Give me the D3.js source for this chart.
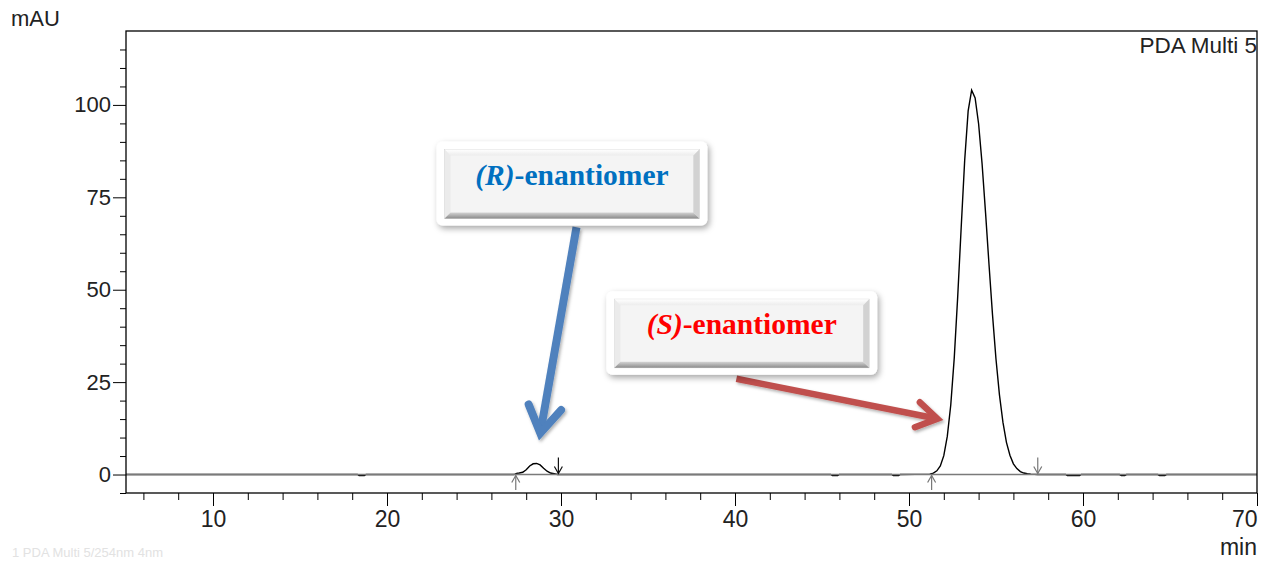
<!DOCTYPE html>
<html>
<head>
<meta charset="utf-8">
<script src="https://cdn.jsdelivr.net/npm/d3@7"></script>
<style>
  body { margin: 0; background: #fff; }
  svg { display: block; }
</style>
</head>
<body>
<div id="chart"></div>
<script>
// chromatogram trace (time in min, signal in mAU)
var traceTime = [5, 18.3, 18.4, 18.7, 18.8, 27.3, 27.45, 27.6, 27.8, 28.0, 28.2, 28.4, 28.6, 28.8, 29.0, 29.2, 29.4, 29.6, 29.8,
    45.5, 45.6, 45.9, 46.0, 49.0, 49.1, 49.4, 49.5,
    51.2, 51.4, 51.6, 51.8, 52.0, 52.2, 52.4, 52.6, 52.8, 53.0, 53.2, 53.4, 53.6, 53.8, 54.0, 54.2, 54.4, 54.6, 54.8,
    55.0, 55.2, 55.4, 55.6, 55.8, 56.0, 56.2, 56.4, 56.6, 56.8, 57.0, 57.4,
    59.0, 59.1, 59.8, 59.9, 62.1, 62.2, 62.4, 62.5, 64.3, 64.4, 64.7, 64.8, 70];
var traceSignal = [0, 0, -0.3, -0.3, 0, 0, 0.3, 0.4, 0.6, 1.3, 2.3, 2.9, 3.0, 2.6, 1.7, 0.9, 0.4, 0.2, 0,
    0, -0.3, -0.3, 0, 0, -0.3, -0.3, 0,
    0.1, 0.4, 1.0, 2.3, 5.1, 10.3, 18.8, 31.5, 48.2, 66.9, 85.0, 98.4, 104.0, 101.9, 94.9, 84.1, 70.8, 56.7, 43.2,
    31.2, 21.5, 14.1, 8.7, 5.2, 2.9, 1.6, 0.8, 0.4, 0.2, 0.1, 0,
    0, -0.3, -0.3, 0, 0, -0.25, -0.25, 0, 0, -0.25, -0.25, 0, 0];

// peak start / end markers (min)
var peakStarts = [27.4, 51.3];
var peakEnds = [29.85, 57.4];
var peakEndColors = ["#111", "#777"];

var xMajor = [10, 20, 30, 40, 50, 60, 70];
var xMinor = [6, 8, 12, 14, 16, 18, 22, 24, 26, 28, 32, 34, 36, 38, 42, 44, 46, 48, 52, 54, 56, 58, 62, 64, 66, 68];
var yMajor = [0, 25, 50, 75, 100];
var yMinor = [-5, 5, 10, 15, 20, 30, 35, 40, 45, 55, 60, 65, 70, 80, 85, 90, 95, 105, 110, 115];

// annotation callouts (data units)
var calloutNames = ["(R)", "(S)"];
var calloutColors = ["#0070c0", "#ff0000"];
var calloutBoxes = [[22.85, 38.41, 90.1, 67.4], [32.61, 48.17, 49.6, 27.0]];
var arrowColors = ["#4f81bd", "#c0504d"];
var arrowFrom = [[30.89, 66.9], [40.08, 25.9]];
var arrowTo = [[28.81, 11.2], [51.63, 15.1]];
var arrowWidth = [8, 6.5];
var arrowArm = [31, 24];

var margin = { top: 31, right: 16, bottom: 68, left: 126 },
    width = 1273 - margin.left - margin.right,
    height = 561 - margin.top - margin.bottom;

var svg = d3.select("#chart").append("svg")
    .attr("width", 1273)
    .attr("height", 561)
    .style("font-family", "'Liberation Sans', Arial, sans-serif");

var defs = svg.append("defs");
var shadow = defs.append("filter").attr("id", "shadow")
    .attr("x", "-20%").attr("y", "-20%").attr("width", "140%").attr("height", "150%");
shadow.append("feDropShadow").attr("dx", 2).attr("dy", 3).attr("stdDeviation", 3)
    .attr("flood-color", "#000").attr("flood-opacity", 0.35);
var ashadow = defs.append("filter").attr("id", "ashadow")
    .attr("x", "-20%").attr("y", "-20%").attr("width", "140%").attr("height", "140%");
ashadow.append("feDropShadow").attr("dx", 1.5).attr("dy", 2).attr("stdDeviation", 1.5)
    .attr("flood-color", "#000").attr("flood-opacity", 0.3);
var bottomGrad = defs.append("linearGradient").attr("id", "bevelBottom")
    .attr("x1", 0).attr("y1", 0).attr("x2", 0).attr("y2", 1);
bottomGrad.append("stop").attr("offset", "0%").attr("stop-color", "#d4d4d4");
bottomGrad.append("stop").attr("offset", "100%").attr("stop-color", "#8c8c8c");
var topGrad = defs.append("linearGradient").attr("id", "bevelTop")
    .attr("x1", 0).attr("y1", 0).attr("x2", 0).attr("y2", 1);
topGrad.append("stop").attr("offset", "0%").attr("stop-color", "#ffffff");
topGrad.append("stop").attr("offset", "100%").attr("stop-color", "#ececec");
defs.append("clipPath").attr("id", "plotclip").append("rect")
    .attr("width", width).attr("height", height);

var chart = svg.append("g")
    .attr("transform", "translate(" + margin.left + "," + margin.top + ")");

var x = d3.scaleLinear().domain([5, 70]).range([0, width]);
var y = d3.scaleLinear().domain([-5, 120]).range([height, 0]);

// x axis: minor then major ticks
chart.append("g")
    .attr("transform", "translate(0," + height + ")")
    .call(d3.axisBottom(x).tickValues(xMinor).tickSize(7).tickSizeOuter(0).tickFormat(""))
    .call(function (g) { g.select(".domain").remove(); });
var xAxis = chart.append("g")
    .attr("transform", "translate(0," + height + ")")
    .call(d3.axisBottom(x).tickValues(xMajor).tickSize(13).tickSizeOuter(0).tickPadding(5))
    .call(function (g) { g.select(".domain").remove(); });
xAxis.selectAll("text")
    .attr("font-family", "'Liberation Sans', Arial, sans-serif")
    .attr("font-size", "23px")
    .attr("fill", "#222")
    .attr("text-anchor", function (d) { return d === 70 ? "end" : "middle"; });

// y axis
chart.append("g")
    .call(d3.axisLeft(y).tickValues(yMinor).tickSize(6).tickSizeOuter(0).tickFormat(""))
    .call(function (g) { g.select(".domain").remove(); });
var yAxis = chart.append("g")
    .call(d3.axisLeft(y).tickValues(yMajor).tickSize(13).tickSizeOuter(0).tickPadding(2))
    .call(function (g) { g.select(".domain").remove(); });
yAxis.selectAll("text")
    .attr("font-family", "'Liberation Sans', Arial, sans-serif")
    .attr("font-size", "22px")
    .attr("fill", "#222");

// trace
var traceData = traceTime.map(function (t, i) { return { t: t, v: traceSignal[i] }; });
var plot = chart.append("g").attr("clip-path", "url(#plotclip)");
plot.append("path")
    .datum(traceData)
    .attr("fill", "none")
    .attr("stroke", "#000")
    .attr("stroke-width", 1.4)
    .attr("d", d3.line().x(function (d) { return x(d.t); }).y(function (d) { return y(d.v); }));

// zero baseline
plot.append("line")
    .attr("x1", 0).attr("x2", width)
    .attr("y1", y(0)).attr("y2", y(0))
    .attr("stroke", "#7a7a7a")
    .attr("stroke-width", 1.6);

// peak markers
function markerArrow(g, xp, y0, y1, color) {
    var dir = y1 < y0 ? -1 : 1;
    g.append("line").attr("x1", xp).attr("x2", xp).attr("y1", y0).attr("y2", y1)
        .attr("stroke", color).attr("stroke-width", 1.2);
    g.append("path")
        .attr("d", "M" + (xp - 4) + "," + (y1 - dir * 7) + "L" + xp + "," + y1 + "L" + (xp + 4) + "," + (y1 - dir * 7))
        .attr("fill", "none").attr("stroke", color).attr("stroke-width", 1.2);
}
peakStarts.forEach(function (t) {
    markerArrow(chart, x(t), height - 3, y(0) + 1, "#777");
});
peakEnds.forEach(function (t, i) {
    markerArrow(chart, x(t), y(0) - 17, y(0) - 1, peakEndColors[i]);
});

// frame
chart.append("rect")
    .attr("width", width).attr("height", height)
    .attr("fill", "none").attr("stroke", "#000").attr("stroke-width", 1.3);

// labels
svg.append("text").attr("x", 11).attr("y", 26).attr("font-size", "22px").attr("fill", "#222")
    .text("mAU");
svg.append("text").attr("x", margin.left + width).attr("y", 53).attr("text-anchor", "end")
    .attr("font-size", "22.5px").attr("fill", "#222").text("PDA Multi 5");
svg.append("text").attr("x", margin.left + width).attr("y", 555).attr("text-anchor", "end")
    .attr("font-size", "23px").attr("fill", "#222").text("min");
svg.append("text").attr("x", 12).attr("y", 557).attr("font-size", "13px").attr("fill", "#e2e2e2")
    .text("1 PDA Multi 5/254nm 4nm");

// arrows
arrowFrom.forEach(function (p, i) {
    var x0 = x(p[0]), y0 = y(p[1]), x1 = x(arrowTo[i][0]), y1 = y(arrowTo[i][1]);
    var ang = Math.atan2(y0 - y1, x0 - x1), spread = 32 * Math.PI / 180, L = arrowArm[i];
    var a1 = [x1 + L * Math.cos(ang - spread), y1 + L * Math.sin(ang - spread)];
    var a2 = [x1 + L * Math.cos(ang + spread), y1 + L * Math.sin(ang + spread)];
    var g = chart.append("g").attr("filter", "url(#ashadow)");
    g.append("line").attr("x1", x0).attr("y1", y0).attr("x2", x1).attr("y2", y1)
        .attr("stroke", arrowColors[i]).attr("stroke-width", arrowWidth[i]);
    g.append("path").attr("d", "M" + a1 + "L" + x1 + "," + y1 + "L" + a2)
        .attr("fill", "none").attr("stroke", arrowColors[i]).attr("stroke-width", arrowWidth[i])
        .attr("stroke-linecap", "round").attr("stroke-linejoin", "miter");
});

// callout buttons
calloutBoxes.forEach(function (b, i) {
    var bx0 = x(b[0]), bx1 = x(b[1]), by0 = y(b[2]), by1 = y(b[3]);
    var g = chart.append("g");
    g.append("rect").attr("x", bx0).attr("y", by0).attr("width", bx1 - bx0).attr("height", by1 - by0)
        .attr("rx", 6).attr("fill", "#fff").attr("filter", "url(#shadow)");
    var ox0 = bx0 + 8, ox1 = bx1 - 8, oy0 = by0 + 8, oy1 = by1 - 7, ix0 = ox0 + 6, ix1 = ox1 - 6, iy0 = oy0 + 6, iy1 = oy1 - 6;
    g.append("rect").attr("x", ox0).attr("y", oy0).attr("width", ox1 - ox0).attr("height", oy1 - oy0)
        .attr("fill", "#f4f4f4").attr("stroke", "#d6d6d6").attr("stroke-width", 0.8);
    g.append("polygon").attr("points", [[ox0, oy0], [ox1, oy0], [ix1, iy0], [ix0, iy0]].join(" "))
        .attr("fill", "url(#bevelTop)");
    g.append("polygon").attr("points", [[ox0, oy0], [ix0, iy0], [ix0, iy1], [ox0, oy1]].join(" "))
        .attr("fill", "#ebebeb");
    g.append("polygon").attr("points", [[ox1, oy0], [ix1, iy0], [ix1, iy1], [ox1, oy1]].join(" "))
        .attr("fill", "#d2d2d2");
    g.append("polygon").attr("points", [[ox0, oy1], [ix0, iy1], [ix1, iy1], [ox1, oy1]].join(" "))
        .attr("fill", "url(#bevelBottom)");
    var t = g.append("text")
        .attr("x", (bx0 + bx1) / 2)
        .attr("y", by0 + 43)
        .attr("text-anchor", "middle")
        .attr("font-family", "'Liberation Serif', 'Times New Roman', serif")
        .attr("font-weight", "bold")
        .attr("font-size", "29.5px")
        .attr("fill", calloutColors[i]);
    t.append("tspan").attr("font-style", "italic").text(calloutNames[i]);
    t.append("tspan").text("-enantiomer");
});
</script>
</body>
</html>
